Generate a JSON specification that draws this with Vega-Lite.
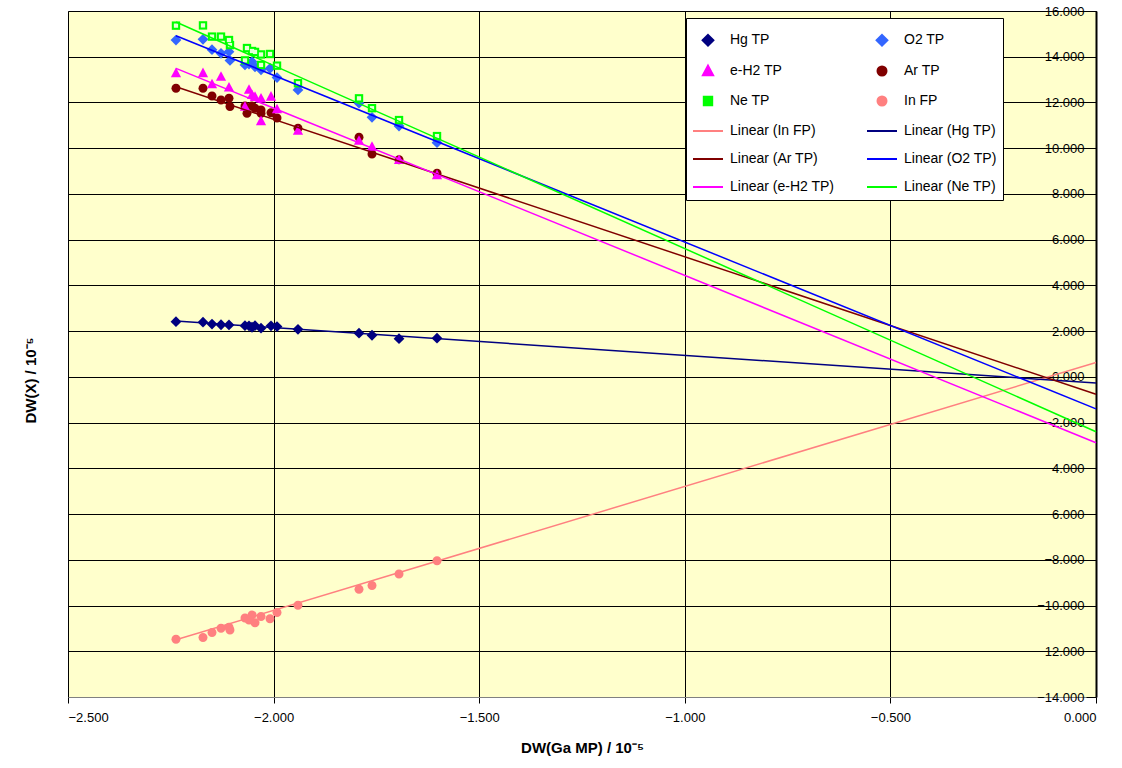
{
  "$schema": "https://vega.github.io/schema/vega-lite/v6.json",
  "width": 1028,
  "height": 686,
  "autosize": {"type": "none"},
  "padding": {"left": 68, "top": 11, "right": 26, "bottom": 71},
  "background": "white",
  "config": {
    "view": {"fill": "#FFFFCC", "stroke": "#808080", "strokeWidth": 1},
    "font": "Liberation Sans"
  },
  "datasets": {
    "points": [
      {"series": "Hg TP", "x": -2.2374, "y": 2.415},
      {"series": "Hg TP", "x": -2.1717, "y": 2.39},
      {"series": "Hg TP", "x": -2.1498, "y": 2.31},
      {"series": "Hg TP", "x": -2.1279, "y": 2.28},
      {"series": "Hg TP", "x": -2.1085, "y": 2.27},
      {"series": "Hg TP", "x": -2.0696, "y": 2.24},
      {"series": "Hg TP", "x": -2.0598, "y": 2.23},
      {"series": "Hg TP", "x": -2.0525, "y": 2.17},
      {"series": "Hg TP", "x": -2.0452, "y": 2.24},
      {"series": "Hg TP", "x": -2.0306, "y": 2.13},
      {"series": "Hg TP", "x": -2.0063, "y": 2.23},
      {"series": "Hg TP", "x": -1.9917, "y": 2.2},
      {"series": "Hg TP", "x": -1.9407, "y": 2.08},
      {"series": "Hg TP", "x": -1.7923, "y": 1.91},
      {"series": "Hg TP", "x": -1.7607, "y": 1.82},
      {"series": "Hg TP", "x": -1.695, "y": 1.67},
      {"series": "Hg TP", "x": -1.6026, "y": 1.69},
      {"series": "In FP", "x": -2.2374, "y": -11.47},
      {"series": "In FP", "x": -2.1717, "y": -11.4},
      {"series": "In FP", "x": -2.1498, "y": -11.18},
      {"series": "In FP", "x": -2.1279, "y": -10.99},
      {"series": "In FP", "x": -2.1085, "y": -10.95},
      {"series": "In FP", "x": -2.1061, "y": -11.07},
      {"series": "In FP", "x": -2.0696, "y": -10.55},
      {"series": "In FP", "x": -2.0598, "y": -10.63},
      {"series": "In FP", "x": -2.0525, "y": -10.41},
      {"series": "In FP", "x": -2.0452, "y": -10.75},
      {"series": "In FP", "x": -2.0306, "y": -10.48},
      {"series": "In FP", "x": -2.0087, "y": -10.58},
      {"series": "In FP", "x": -1.9917, "y": -10.31},
      {"series": "In FP", "x": -1.9407, "y": -9.99},
      {"series": "In FP", "x": -1.7923, "y": -9.29},
      {"series": "In FP", "x": -1.7607, "y": -9.12},
      {"series": "In FP", "x": -1.695, "y": -8.62},
      {"series": "In FP", "x": -1.6026, "y": -8.04},
      {"series": "O2 TP", "x": -2.2374, "y": 14.73},
      {"series": "O2 TP", "x": -2.1717, "y": 14.76},
      {"series": "O2 TP", "x": -2.1498, "y": 14.31},
      {"series": "O2 TP", "x": -2.1279, "y": 14.15},
      {"series": "O2 TP", "x": -2.1085, "y": 14.22},
      {"series": "O2 TP", "x": -2.1061, "y": 13.84},
      {"series": "O2 TP", "x": -2.0696, "y": 13.64},
      {"series": "O2 TP", "x": -2.0598, "y": 13.68},
      {"series": "O2 TP", "x": -2.0525, "y": 13.78},
      {"series": "O2 TP", "x": -2.0452, "y": 13.56},
      {"series": "O2 TP", "x": -2.0306, "y": 13.43},
      {"series": "O2 TP", "x": -2.0087, "y": 13.49},
      {"series": "O2 TP", "x": -1.9917, "y": 13.09},
      {"series": "O2 TP", "x": -1.9407, "y": 12.55},
      {"series": "O2 TP", "x": -1.7923, "y": 11.97},
      {"series": "O2 TP", "x": -1.7607, "y": 11.35},
      {"series": "O2 TP", "x": -1.695, "y": 10.97},
      {"series": "O2 TP", "x": -1.6026, "y": 10.24},
      {"series": "Ar TP", "x": -2.2374, "y": 12.62},
      {"series": "Ar TP", "x": -2.1717, "y": 12.62},
      {"series": "Ar TP", "x": -2.1498, "y": 12.28},
      {"series": "Ar TP", "x": -2.1279, "y": 12.11},
      {"series": "Ar TP", "x": -2.1085, "y": 12.18},
      {"series": "Ar TP", "x": -2.1061, "y": 11.82},
      {"series": "Ar TP", "x": -2.0696, "y": 11.85},
      {"series": "Ar TP", "x": -2.0647, "y": 11.53},
      {"series": "Ar TP", "x": -2.0525, "y": 11.85},
      {"series": "Ar TP", "x": -2.0452, "y": 11.75},
      {"series": "Ar TP", "x": -2.0306, "y": 11.67},
      {"series": "Ar TP", "x": -2.0306, "y": 11.53},
      {"series": "Ar TP", "x": -2.0063, "y": 11.55},
      {"series": "Ar TP", "x": -1.9917, "y": 11.32},
      {"series": "Ar TP", "x": -1.9407, "y": 10.87},
      {"series": "Ar TP", "x": -1.7923, "y": 10.48},
      {"series": "Ar TP", "x": -1.7607, "y": 9.75},
      {"series": "Ar TP", "x": -1.695, "y": 9.49},
      {"series": "Ar TP", "x": -1.6026, "y": 8.9},
      {"series": "e-H2 TP", "x": -2.2374, "y": 13.29},
      {"series": "e-H2 TP", "x": -2.1717, "y": 13.29},
      {"series": "e-H2 TP", "x": -2.1498, "y": 12.8},
      {"series": "e-H2 TP", "x": -2.1279, "y": 13.13},
      {"series": "e-H2 TP", "x": -2.1085, "y": 12.66},
      {"series": "e-H2 TP", "x": -2.0696, "y": 11.82},
      {"series": "e-H2 TP", "x": -2.0598, "y": 12.56},
      {"series": "e-H2 TP", "x": -2.0525, "y": 12.33},
      {"series": "e-H2 TP", "x": -2.0452, "y": 12.25},
      {"series": "e-H2 TP", "x": -2.0306, "y": 12.18},
      {"series": "e-H2 TP", "x": -2.0306, "y": 11.19},
      {"series": "e-H2 TP", "x": -2.0063, "y": 12.26},
      {"series": "e-H2 TP", "x": -1.9917, "y": 11.71},
      {"series": "e-H2 TP", "x": -1.9407, "y": 10.77},
      {"series": "e-H2 TP", "x": -1.7923, "y": 10.33},
      {"series": "e-H2 TP", "x": -1.7607, "y": 10.07},
      {"series": "e-H2 TP", "x": -1.695, "y": 9.49},
      {"series": "e-H2 TP", "x": -1.6026, "y": 8.83},
      {"series": "Ne TP", "x": -2.2374, "y": 15.36},
      {"series": "Ne TP", "x": -2.1717, "y": 15.37},
      {"series": "Ne TP", "x": -2.1498, "y": 14.88},
      {"series": "Ne TP", "x": -2.1279, "y": 14.88},
      {"series": "Ne TP", "x": -2.1085, "y": 14.73},
      {"series": "Ne TP", "x": -2.1061, "y": 14.51},
      {"series": "Ne TP", "x": -2.0696, "y": 13.84},
      {"series": "Ne TP", "x": -2.0647, "y": 14.38},
      {"series": "Ne TP", "x": -2.0525, "y": 14.25},
      {"series": "Ne TP", "x": -2.0452, "y": 14.21},
      {"series": "Ne TP", "x": -2.0306, "y": 14.1},
      {"series": "Ne TP", "x": -2.0306, "y": 13.64},
      {"series": "Ne TP", "x": -2.0087, "y": 14.12},
      {"series": "Ne TP", "x": -1.9917, "y": 13.61},
      {"series": "Ne TP", "x": -1.9407, "y": 12.84},
      {"series": "Ne TP", "x": -1.7923, "y": 12.18},
      {"series": "Ne TP", "x": -1.7607, "y": 11.75},
      {"series": "Ne TP", "x": -1.695, "y": 11.23},
      {"series": "Ne TP", "x": -1.6026, "y": 10.53}
    ],
    "fits": [
      {"series": "Linear (In FP)", "x": -2.2374, "y": -11.5},
      {"series": "Linear (In FP)", "x": 0, "y": 0.63},
      {"series": "Linear (Hg TP)", "x": -2.2374, "y": 2.44},
      {"series": "Linear (Hg TP)", "x": 0, "y": -0.27},
      {"series": "Linear (Ar TP)", "x": -2.2374, "y": 12.69},
      {"series": "Linear (Ar TP)", "x": 0, "y": -0.76},
      {"series": "Linear (O2 TP)", "x": -2.2374, "y": 14.92},
      {"series": "Linear (O2 TP)", "x": 0, "y": -1.4},
      {"series": "Linear (e-H2 TP)", "x": -2.2374, "y": 13.49},
      {"series": "Linear (e-H2 TP)", "x": 0, "y": -2.88},
      {"series": "Linear (Ne TP)", "x": -2.2374, "y": 15.52},
      {"series": "Linear (Ne TP)", "x": 0, "y": -2.4}
    ]
  },
  "encoding": {
    "x": {
      "field": "x", "type": "quantitative",
      "scale": {"domain": [-2.5, 0], "nice": false, "zero": false},
      "axis": {
        "values": [-2.5, -2, -1.5, -1, -0.5, 0],
        "format": ".3f",
        "title": "DW(Ga MP) / 10⁻⁵",
        "titleFontSize": 15, "titleFontWeight": "bold", "titleColor": "black",
        "titlePadding": 16,
        "labelFontSize": 13, "labelColor": "black", "labelPadding": 8,
        "tickSize": 6, "tickColor": "black",
        "domainColor": "#808080",
        "grid": true, "gridColor": "black", "gridWidth": 1, "gridOpacity": 1
      }
    },
    "y": {
      "field": "y", "type": "quantitative",
      "scale": {"domain": [-14, 16], "nice": false, "zero": false},
      "axis": {
        "orient": "left", "offset": -1028,
        "values": [-14, -12, -10, -8, -6, -4, -2, 0, 2, 4, 6, 8, 10, 12, 14, 16],
        "format": ".3f",
        "title": "DW(X) / 10⁻⁵",
        "titleFontSize": 15, "titleFontWeight": "bold", "titleColor": "black",
        "titleX": -1058, "titleY": 369,
        "labelFontSize": 13, "labelColor": "black", "labelPadding": 2,
        "tickSize": 10, "tickColor": "black",
        "domainColor": "black", "domainWidth": 2,
        "grid": true, "gridColor": "black", "gridWidth": 1, "gridOpacity": 1
      }
    }
  },
  "layer": [
    {
      "data": {"name": "points"},
      "mark": {"type": "point", "filled": true, "opacity": 1, "size": 900},
      "encoding": {
        "color": {
          "field": "series", "type": "nominal",
          "scale": {
            "domain": ["Hg TP", "O2 TP", "e-H2 TP", "Ar TP", "Ne TP", "In FP", "Linear (In FP)", "Linear (Hg TP)", "Linear (Ar TP)", "Linear (O2 TP)", "Linear (e-H2 TP)", "Linear (Ne TP)"],
            "range": ["#000080", "#3366FF", "#FF00FF", "#800000", "#00FF00", "#FF8080", "#FF8080", "#000080", "#800000", "#0000FF", "#FF00FF", "#00FF00"]
          },
          "legend": {
            "title": null,
            "orient": "none", "legendX": 618, "legendY": 7,
            "direction": "horizontal",
            "columns": 2, "columnPadding": 28, "rowPadding": 5,
            "fillColor": "white", "strokeColor": "black", "padding": 6,
            "labelFontSize": 14, "labelColor": "black", "labelOffset": 6,
            "symbolSize": 900,
            "symbolStrokeWidth": 2
          }
        },
        "shape": {
          "field": "series", "type": "nominal",
          "scale": {
            "domain": ["Hg TP", "O2 TP", "e-H2 TP", "Ar TP", "Ne TP", "In FP", "Linear (In FP)", "Linear (Hg TP)", "Linear (Ar TP)", "Linear (O2 TP)", "Linear (e-H2 TP)", "Linear (Ne TP)"],
            "range": [
              "M0,-0.36L0.36,0L0,0.36L-0.36,0Z",
              "M0,-0.36L0.36,0L0,0.36L-0.36,0Z",
              "M0,-0.36L0.34,0.28L-0.34,0.28Z",
              "M-0.3,0a0.3,0.3 0 1,0 0.6,0a0.3,0.3 0 1,0 -0.6,0Z",
              "M-0.28,-0.28H0.28V0.28H-0.28Z",
              "M-0.3,0a0.3,0.3 0 1,0 0.6,0a0.3,0.3 0 1,0 -0.6,0Z",
              "stroke", "stroke", "stroke", "stroke", "stroke", "stroke"
            ]
          },
          "legend": {
            "title": null,
            "orient": "none", "legendX": 618, "legendY": 7,
            "direction": "horizontal",
            "columns": 2, "columnPadding": 28, "rowPadding": 5,
            "fillColor": "white", "strokeColor": "black", "padding": 6,
            "labelFontSize": 14, "labelColor": "black", "labelOffset": 6,
            "symbolSize": 900,
            "symbolStrokeWidth": 2
          }
        }
      }
    },
    {
      "data": {"name": "points"},
      "transform": [{"filter": "datum.series === 'Ne TP'"}],
      "mark": {"type": "square", "filled": true, "opacity": 1, "size": 18, "color": "#E8FFD8"},
      "encoding": {}
    },
    {
      "data": {"name": "fits"},
      "mark": {"type": "line", "strokeWidth": 1.5},
      "encoding": {
        "color": {"field": "series", "type": "nominal", "legend": null}
      }
    }
  ]
}
